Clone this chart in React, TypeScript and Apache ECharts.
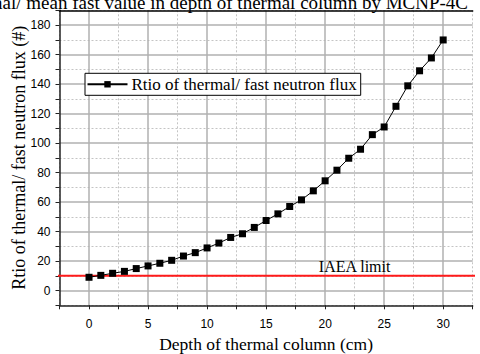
import React, { useEffect, useRef } from "react";
import * as echarts from "echarts";

const depths = [0, 1, 2, 3, 4, 5, 6, 7, 8, 9, 10, 11, 12, 13, 14, 15, 16, 17, 18, 19, 20, 21, 22, 23, 24, 25, 26, 27, 28, 29, 30];
const ratios = [9.0, 10.3, 11.7, 13.0, 14.9, 16.7, 18.5, 20.5, 23.4, 25.7, 28.9, 32.2, 36.0, 38.5, 42.8, 47.5, 52.0, 57.0, 61.5, 67.6, 74.4, 81.6, 89.7, 95.8, 105.7, 110.9, 124.9, 138.8, 149.0, 157.7, 169.9];
const limitX = [-3.6, 33.5];
const limitValue = 10;
const limitLabelX = 22.5;
const seriesName = "Rtio of thermal/ fast neutron flux";
const titleText = "Ratio of thermal/ mean fast value in depth of thermal column by MCNP-4C";

const SERIF = "'Liberation Serif', 'Times New Roman', serif";
const SANS = "'Liberation Sans', Arial, sans-serif";
const CLEAR = "rgba(0,0,0,0)";
const MAJOR = "#b0b0b0";
const MINOR = "#c4c4c4";

export default function App() {
  const ref = useRef<HTMLDivElement>(null);
  useEffect(() => {
    if (!ref.current) return;
    const chart = echarts.init(ref.current, null, { renderer: "svg" });
    const grid = { left: 59.5, right: 7.3, top: 10.3, bottom: 48.7, containLabel: false, outerBoundsMode: "none" };
    const xBase = { type: "value", min: -2.5, max: 32.5, interval: 2.5 };
    const yBase = { type: "value", min: -10, max: 190, interval: 10 };
    chart.setOption({
      animation: false,
      backgroundColor: "#ffffff",
      grid,
      graphic: [
        {
          type: "text",
          x: 468,
          y: 12,
          style: {
            text: titleText,
            font: `19px ${SERIF}`,
            fill: "#000",
            align: "right",
            verticalAlign: "bottom",
          },
        },
      ],
      legend: {
        data: [seriesName],
        left: 85,
        top: 73.3,
        orient: "horizontal",
        padding: [2.5, 4, 2.5, 1.5],
        itemWidth: 40,
        itemHeight: 8,
        itemGap: 4,
        borderColor: "#000",
        borderWidth: 1,
        backgroundColor: "#fff",
        textStyle: { fontFamily: SERIF, fontSize: 17, color: "#000", padding: [0, 0, 0, -1] },
      },
      xAxis: [
        {
          ...xBase,
          position: "bottom",
          name: "Depth of thermal column (cm)",
          nameLocation: "middle",
          nameGap: 30,
          nameMoveOverlap: false,
          nameTextStyle: { fontFamily: SERIF, fontSize: 17.5, color: "#000" },
          axisLine: { show: true, onZero: false, lineStyle: { color: "#222", width: 1.5 } },
          axisTick: { show: true, inside: false, length: 4, lineStyle: { color: "#222", width: 1 } },
          axisLabel: {
            margin: 13,
            fontFamily: SANS,
            fontSize: 12,
            color: "#000",
            formatter: (v: number) => (Math.abs(v % 5) < 1e-6 ? String(v) : ""),
          },
          splitLine: { show: true, showMinLine: true, showMaxLine: true, lineStyle: { color: [CLEAR, MAJOR], width: 1.5, type: "solid" } },
        },
        {
          ...xBase,
          position: "top",
          axisLine: { show: true, onZero: false, lineStyle: { color: "#000", width: 1.5 } },
          axisTick: { show: false },
          axisLabel: { show: false },
          splitLine: { show: true, showMinLine: true, showMaxLine: true, lineStyle: { color: [MINOR, CLEAR], width: 1, type: [2, 2] } },
        },
      ],
      yAxis: [
        {
          ...yBase,
          position: "left",
          name: "Rtio of thermal/ fast neutron flux (#)",
          nameLocation: "middle",
          nameGap: 32,
          nameRotate: 90,
          nameMoveOverlap: false,
          nameTextStyle: { fontFamily: SERIF, fontSize: 18, color: "#000" },
          axisLine: { show: true, onZero: false, lineStyle: { color: "#222", width: 1.5 } },
          axisTick: { show: true, inside: false, length: 4, lineStyle: { color: "#222", width: 1 } },
          axisLabel: {
            margin: 9,
            fontFamily: SANS,
            fontSize: 12,
            color: "#000",
            formatter: (v: number) => (Math.abs(v % 20) < 1e-6 && v >= 0 && v <= 180 ? String(v) : ""),
          },
          splitLine: { show: true, showMinLine: true, showMaxLine: true, lineStyle: { color: [CLEAR, MAJOR], width: 1.5, type: "solid" } },
        },
        {
          ...yBase,
          position: "right",
          axisLine: { show: false },
          axisTick: { show: false },
          axisLabel: { show: false },
          splitLine: { show: true, showMinLine: true, showMaxLine: true, lineStyle: { color: [MINOR, CLEAR], width: 1, type: [2, 2] } },
        },
      ],
      series: [
        {
          name: "IAEA limit",
          type: "line",
          xAxisIndex: 0,
          yAxisIndex: 0,
          clip: false,
          symbol: "none",
          silent: true,
          lineStyle: { color: "#ff1a1a", width: 2 },
          data: limitX.map((x) => [x, limitValue]),
          markPoint: {
            symbol: "circle",
            symbolSize: 0,
            silent: true,
            label: {
              show: true,
              position: "top",
              distance: 1,
              formatter: "IAEA limit",
              fontFamily: SERIF,
              fontSize: 16,
              color: "#000",
            },
            data: [{ coord: [limitLabelX, limitValue] }],
          },
          z: 3,
        },
        {
          name: seriesName,
          type: "line",
          xAxisIndex: 0,
          yAxisIndex: 0,
          symbol: "rect",
          symbolSize: 7,
          itemStyle: { color: "#000" },
          lineStyle: { color: "#000", width: 1 },
          data: depths.map((d, i) => [d, ratios[i]]),
          z: 4,
        },
      ],
    });
    return () => chart.dispose();
  }, []);
  return <div ref={ref} style={{ position: "fixed", left: 0, top: 0, width: 480, height: 354 }} />;
}
